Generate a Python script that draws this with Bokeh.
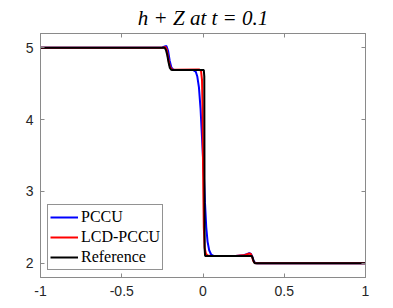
from bokeh.plotting import figure
from bokeh.models import LinearAxis, FixedTicker, Legend, LegendItem, Range1d
from bokeh.embed import file_html
from bokeh.resources import INLINE

# ---- data ----
x_pccu = [-1.0, -0.25, -0.235, -0.225, -0.215, -0.205, -0.195, -0.185, -0.175, -0.165,
          -0.06, -0.045, -0.035, -0.025, -0.015, -0.005, 0.005, 0.012, 0.02, 0.028, 0.038, 0.05, 0.065,
          0.2, 0.25, 0.27, 0.285, 0.295, 0.303, 0.31, 0.318, 0.33, 1.0]
y_pccu = [5.0, 5.005, 5.02, 5.025, 4.96, 4.82, 4.73, 4.70, 4.69, 4.69,
          4.69, 4.67, 4.60, 4.45, 4.15, 3.70, 3.25, 2.85, 2.50, 2.30, 2.18, 2.12, 2.10,
          2.10, 2.11, 2.125, 2.14, 2.13, 2.09, 2.04, 2.01, 2.0, 2.0]

x_lcd = [-1.0, -0.245, -0.232, -0.224, -0.216, -0.206, -0.196, -0.186, -0.17,
         -0.025, -0.012, -0.006, -0.003, -0.001, 0.002, 0.005, 0.01, 0.018, 0.03, 0.05,
         0.2, 0.26, 0.28, 0.293, 0.302, 0.308, 0.315, 0.325, 1.0]
y_lcd = [5.0, 5.0, 5.015, 4.98, 4.88, 4.76, 4.71, 4.695, 4.695,
         4.70, 4.68, 4.55, 4.20, 3.60, 3.00, 2.50, 2.22, 2.13, 2.105, 2.10,
         2.10, 2.115, 2.13, 2.13, 2.09, 2.04, 2.01, 2.0, 2.0]

x_ref = [-1.0, -0.236, -0.228, -0.220, -0.212, -0.204, -0.196, -0.188,
         0.005, 0.008, 0.010, 0.013, 0.300, 0.305, 0.310, 0.315, 0.320, 1.0]
y_ref = [5.0, 5.0, 4.97, 4.90, 4.80, 4.72, 4.695, 4.69,
         4.69, 4.60, 2.20, 2.10, 2.10, 2.08, 2.04, 2.01, 2.0, 2.0]

x_ticks = [-1, -0.5, 0, 0.5, 1]
x_tick_labels = ["-1", "-0.5", "0", "0.5", "1"]
y_ticks = [2, 3, 4, 5]
y_tick_labels = ["2", "3", "4", "5"]

series_names = ["PCCU", "LCD-PCCU", "Reference"]
series_colors = ["#0000ff", "#ff0000", "#000000"]

AX = "#8a8a8a"
LBL = "#262626"

p = figure(frame_width=325, frame_height=244, output_backend="svg", toolbar_location=None,
           x_range=Range1d(-1, 1), y_range=Range1d(1.8, 5.2),
           min_border_left=40, min_border_right=28, min_border_top=32, min_border_bottom=32,
           x_axis_type=None, y_axis_type=None)
p.title.text = "h + Z at t = 0.1"
p.title.text_font = "Liberation Serif"
p.title.text_font_size = "21px"
p.title.text_font_style = "italic"
p.title.align = "center"
p.title.text_color = "#000000"
p.title.standoff = 7
p.grid.visible = False
p.outline_line_color = AX
p.outline_line_width = 1
p.background_fill_color = "white"
p.border_fill_color = "white"

def make_axis(ticks, labels, show_labels):
    ax = LinearAxis(ticker=FixedTicker(ticks=ticks))
    ax.major_label_overrides = {t: l for t, l in zip(ticks, labels)}
    ax.minor_tick_line_color = None
    ax.major_tick_in = 4
    ax.major_tick_out = 0
    ax.major_tick_line_color = AX
    ax.axis_line_color = AX
    if show_labels:
        ax.major_label_text_font = "Liberation Sans"
        ax.major_label_text_font_size = "14px"
        ax.major_label_text_color = LBL
    else:
        ax.major_label_text_font_size = "0px"
        ax.major_label_text_color = None
        ax.major_label_standoff = 0
    return ax

xb = make_axis(x_ticks, x_tick_labels, True)
xb.major_label_standoff = 8
p.add_layout(xb, "below")
yl = make_axis(y_ticks, y_tick_labels, True)
yl.major_label_standoff = 7
p.add_layout(yl, "left")
p.add_layout(make_axis(x_ticks, x_tick_labels, False), "above")
p.add_layout(make_axis(y_ticks, y_tick_labels, False), "right")

r1 = p.line(x_pccu, y_pccu, line_color=series_colors[0], line_width=2)
r2 = p.line(x_lcd, y_lcd, line_color=series_colors[1], line_width=2)
r3 = p.line(x_ref, y_ref, line_color=series_colors[2], line_width=2)

legend = Legend(items=[LegendItem(label=series_names[0], renderers=[r1]),
                       LegendItem(label=series_names[1], renderers=[r2]),
                       LegendItem(label=series_names[2], renderers=[r3])],
                location="bottom_left")
legend.label_text_font = "Liberation Serif"
legend.label_text_font_size = "16px"
legend.label_text_color = "#000000"
legend.glyph_width = 28
legend.glyph_height = 20
legend.label_height = 20
legend.label_standoff = 3
legend.spacing = 0
legend.padding = 2
legend.margin = 7
legend.border_line_color = "#262626"
legend.border_line_width = 1
legend.background_fill_color = "white"
legend.background_fill_alpha = 1
p.add_layout(legend)

open("out.html", "w").write(file_html(p, INLINE))
